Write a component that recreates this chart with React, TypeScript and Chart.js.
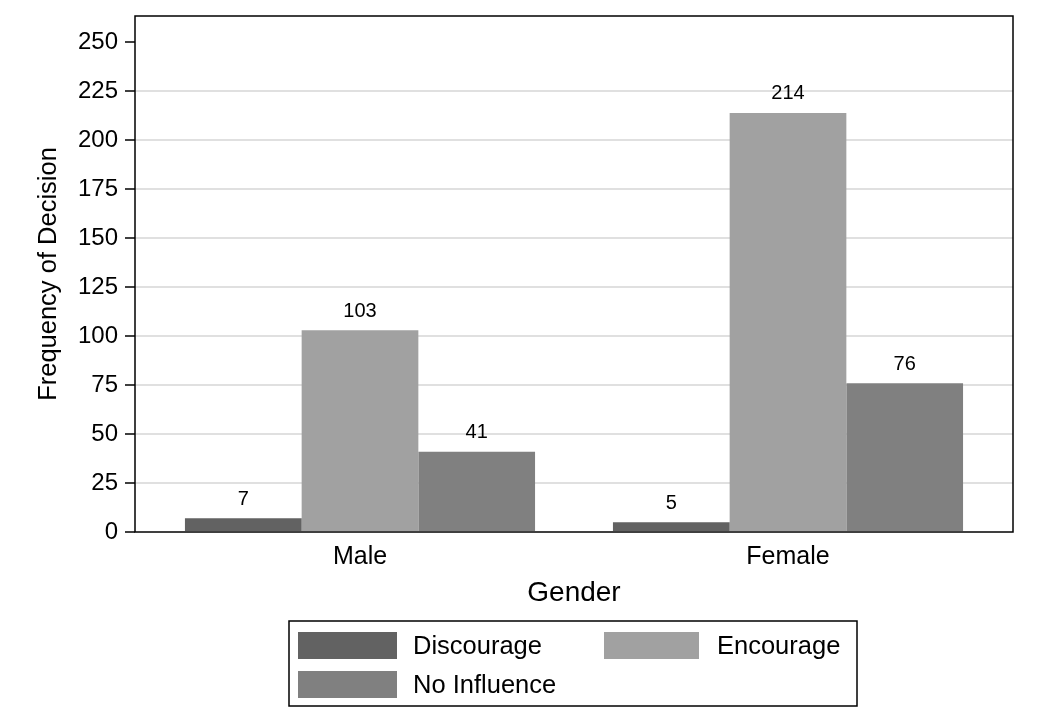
import React, { useEffect, useRef } from "react";
import { Chart, registerables } from "chart.js";

Chart.register(...registerables);

const categories = ["Male", "Female"];
const seriesNames = ["Discourage", "Encourage", "No Influence"];
const discourage = [7, 5];
const encourage = [103, 214];
const noInfluence = [41, 76];
const seriesColors = ["#626262", "#a1a1a1", "#808080"];
const yTickValues = [0, 25, 50, 75, 100, 125, 150, 175, 200, 225, 250];

const FONT = "'Liberation Sans', Arial, Helvetica, sans-serif";

const valueLabels = {
  id: "valueLabels",
  afterDatasetsDraw(chart: any) {
    const ctx = chart.ctx;
    ctx.save();
    ctx.font = `20px ${FONT}`;
    ctx.fillStyle = "#000";
    ctx.textAlign = "center";
    ctx.textBaseline = "middle";
    chart.data.datasets.forEach((ds: any, di: number) => {
      const meta = chart.getDatasetMeta(di);
      meta.data.forEach((el: any, i: number) => {
        const v = ds.data[i].y;
        ctx.fillText(String(v), el.x, el.y - 19);
      });
    });
    ctx.restore();
  },
};

const frameAndLegend = {
  id: "frameAndLegend",
  afterDraw(chart: any) {
    const ctx = chart.ctx;
    const a = chart.chartArea;
    ctx.save();
    ctx.strokeStyle = "#000";
    ctx.lineWidth = 1.5;
    ctx.strokeRect(a.left, a.top, a.right - a.left, a.bottom - a.top);

    // legend box
    const bx = 289, by = 621, bw = 568, bh = 85;
    ctx.lineWidth = 1.5;
    ctx.strokeRect(bx, by, bw, bh);
    const items = [
      { sx: 298, sy: 632, sw: 99, tx: 413 },
      { sx: 604, sy: 632, sw: 95, tx: 717 },
      { sx: 298, sy: 671, sw: 99, tx: 413 },
    ];
    ctx.font = `25.5px ${FONT}`;
    ctx.textBaseline = "middle";
    ctx.textAlign = "left";
    items.forEach((it, i) => {
      ctx.fillStyle = seriesColors[i];
      ctx.fillRect(it.sx, it.sy, it.sw, 27);
      ctx.fillStyle = "#000";
      ctx.fillText(seriesNames[i], it.tx, it.sy + 15);
    });
    ctx.restore();
  },
};

export default function App() {
  const ref = useRef<HTMLCanvasElement | null>(null);
  useEffect(() => {
    if (!ref.current) return;
    const seriesData = [discourage, encourage, noInfluence];
    const chart = new Chart(ref.current, {
      type: "bar",
      data: {
        datasets: seriesData.map((vals, si) => ({
          label: seriesNames[si],
          data: vals.map((v, i) => ({ x: i, y: v })),
          backgroundColor: seriesColors[si],
          borderWidth: 0,
          barPercentage: 1,
          categoryPercentage: 0.818,
        })),
      },
      options: {
        animation: false,
        responsive: true,
        maintainAspectRatio: false,
        layout: { padding: { top: 16, right: 25, bottom: 0, left: 0 } },
        plugins: {
          legend: { display: false },
          tooltip: { enabled: false },
          title: { display: false },
        },
        scales: {
          x: {
            type: "linear",
            offset: false,
            min: -0.5257,
            max: 1.5257,
            afterBuildTicks: (s: any) => {
              s.ticks = categories.map((_, i) => ({ value: i }));
            },
            afterFit: (s: any) => {
              s.height = 196;
              s.paddingLeft = 0;
              s.paddingRight = 0;
            },
            grid: { display: false, drawTicks: false, offset: false },
            border: { display: false },
            ticks: {
              color: "#000",
              font: { family: FONT, size: 25 },
              padding: 10,
              maxRotation: 0,
              callback: (v: any) => categories[v] ?? "",
            },
            title: {
              display: true,
              text: "Gender",
              color: "#000",
              font: { family: FONT, size: 28 },
              padding: { top: 0, bottom: 118 },
            },
          },
          y: {
            min: 0,
            max: 263.5,
            afterBuildTicks: (s: any) => {
              s.ticks = yTickValues.map((v) => ({ value: v }));
            },
            afterFit: (s: any) => {
              s.width = 135;
              s.paddingTop = 0;
              s.paddingBottom = 0;
            },
            grid: {
              color: (c: any) =>
                c.tick && (c.tick.value === 0 || c.tick.value === 250) ? "rgba(0,0,0,0)" : "#e0e0e0",
              lineWidth: 2,
              tickColor: "#000",
              tickLength: 10,
              tickWidth: 1.5,
            },
            border: { display: false },
            ticks: {
              color: "#000",
              font: { family: FONT, size: 24 },
              padding: 7,
            },
            title: {
              display: true,
              text: "Frequency of Decision",
              color: "#000",
              font: { family: FONT, size: 25.5 },
              padding: { top: 34, bottom: 0 },
            },
          },
        },
      },
      plugins: [valueLabels, frameAndLegend],
    } as any);
    return () => chart.destroy();
  }, []);

  return (
    <div style={{ position: "fixed", left: 0, top: 0, width: 1038, height: 728, background: "#fff" }}>
      <canvas ref={ref} />
    </div>
  );
}
